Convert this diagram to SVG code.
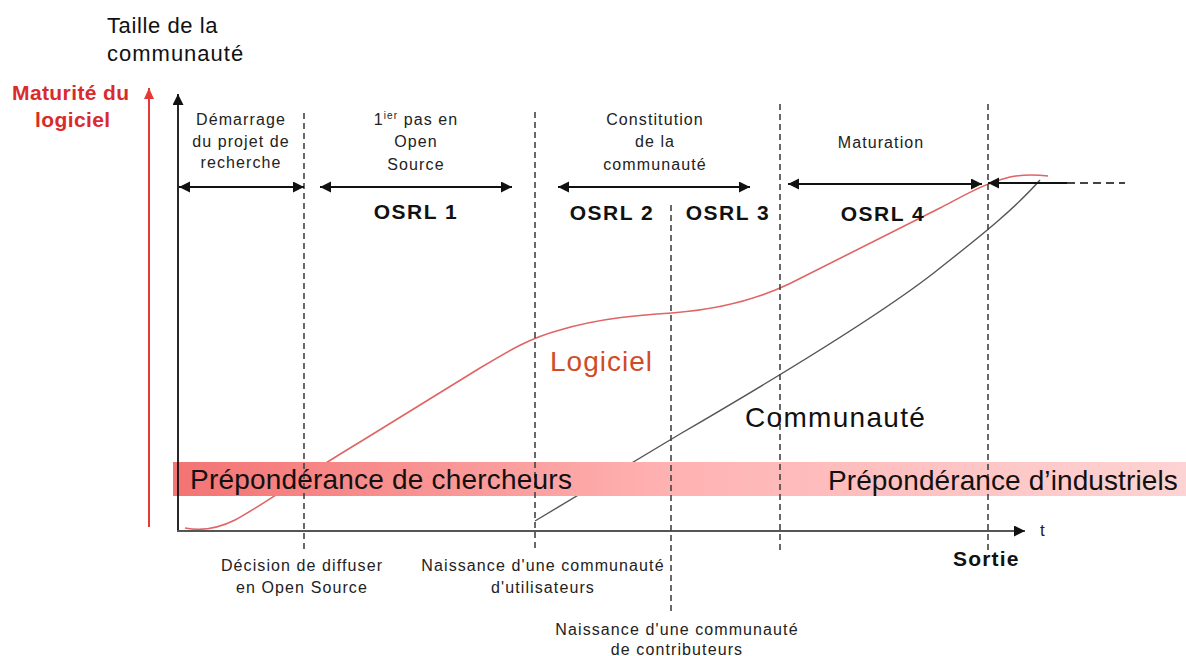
<svg xmlns="http://www.w3.org/2000/svg" width="1186" height="656" viewBox="0 0 1186 656">
<defs>
<marker id="ah" markerUnits="userSpaceOnUse" markerWidth="12" markerHeight="12" refX="11" refY="5.5" orient="auto-start-reverse"><path d="M0,0 L11,5.5 L0,11 z" fill="#111"/></marker>
<marker id="ahr" markerUnits="userSpaceOnUse" markerWidth="12" markerHeight="12" refX="11" refY="5" orient="auto"><path d="M0,0 L11,5 L0,10 z" fill="#e53935"/></marker>
<linearGradient id="band" x1="0" y1="0" x2="1" y2="0">
<stop offset="0" stop-color="#f47373"/>
<stop offset="0.5" stop-color="#ffb3b3"/>
<stop offset="1" stop-color="#fdd3d3"/>
</linearGradient>
<style>
text{font-family:"Liberation Sans",Arial,sans-serif}
.ph{font-size:16px;fill:#222;letter-spacing:1.1px;text-anchor:middle}
.os{font-size:21px;font-weight:bold;fill:#111;letter-spacing:1.5px;text-anchor:middle}
.dash{stroke:#444;stroke-width:1.6;stroke-dasharray:6,4;fill:none}
.dbl{stroke:#111;stroke-width:1.8;fill:none;marker-start:url(#ah);marker-end:url(#ah)}
</style>
</defs>
<rect width="1186" height="656" fill="#fff"/>

<g id="curves">
<path id="curve-logiciel" d="M185,528 C200,531 215,530 235,520 S300,478 360,442 L480,368 C510,350 530,338 560,330 C600,318 640,315 672,313 C725,309 762,297 790,283.5 L940,208 C965,195 985,183 1010,177 C1025,174 1040,175 1048,176" fill="none" stroke="#e06464" stroke-width="1.6"/>
<path id="curve-communaute" d="M535,521 L680,434 C790,370 880,315 935,272 C970,244 1010,214 1040,180" fill="none" stroke="#555" stroke-width="1.4"/>
</g>

<g id="band-group">
<rect x="173" y="462" width="1013" height="34" fill="url(#band)"/>
</g>

<g id="connectors">
<line x1="149" y1="527" x2="149" y2="88" stroke="#e53935" stroke-width="2" marker-end="url(#ahr)"/>
<line x1="178" y1="531" x2="178" y2="94" stroke="#111" stroke-width="1.8" marker-end="url(#ah)"/>
<line x1="177" y1="531" x2="1025" y2="531" stroke="#555" stroke-width="2" marker-end="url(#ah)"/>
<line class="dash" x1="304" y1="113" x2="304" y2="552"/>
<line class="dash" x1="535" y1="112" x2="535" y2="552"/>
<line class="dash" x1="671" y1="205" x2="671" y2="614"/>
<line class="dash" x1="780" y1="104" x2="780" y2="554"/>
<line class="dash" x1="988" y1="104" x2="988" y2="550"/>
<line class="dbl" x1="179" y1="187" x2="304" y2="187"/>
<line class="dbl" x1="320" y1="187" x2="512" y2="187"/>
<line class="dbl" x1="558" y1="187" x2="750" y2="187"/>
<line class="dbl" x1="788" y1="184" x2="982" y2="184"/>
<line x1="1067" y1="183" x2="988" y2="183" stroke="#111" stroke-width="1.8" marker-end="url(#ah)"/>
<line x1="1067" y1="183" x2="1125" y2="183" stroke="#444" stroke-width="1.8" stroke-dasharray="8,5"/>
</g>

<g id="axis-labels">
<text x="107" y="33" font-size="22" letter-spacing="0.6" fill="#111">Taille de la</text>
<text x="107" y="61" font-size="22" letter-spacing="1" fill="#111">communauté</text>
<text x="12" y="100" font-size="21" font-weight="bold" letter-spacing="0.4" fill="#d92b2b">Maturité du</text>
<text x="35" y="127" font-size="21" font-weight="bold" letter-spacing="0.4" fill="#d92b2b">logiciel</text>
<text x="1040" y="536" font-size="17" fill="#222">t</text>
<text x="953" y="566" font-size="21" font-weight="bold" letter-spacing="1.2" fill="#111">Sortie</text>
</g>

<g id="phase-demarrage">
<text class="ph" x="241" y="125">Démarrage</text>
<text class="ph" x="241" y="147">du projet de</text>
<text class="ph" x="241" y="168">recherche</text>
</g>
<g id="phase-osrl1">
<text class="ph" x="416" y="125">1<tspan font-size="10" dy="-6">ier</tspan><tspan dy="6"> pas en</tspan></text>
<text class="ph" x="416" y="147">Open</text>
<text class="ph" x="416" y="170">Source</text>
<text class="os" x="416" y="219">OSRL 1</text>
</g>
<g id="phase-constitution">
<text class="ph" x="655" y="125">Constitution</text>
<text class="ph" x="655" y="147">de la</text>
<text class="ph" x="655" y="170">communauté</text>
<text class="os" x="612" y="220">OSRL 2</text>
<text class="os" x="728" y="220">OSRL 3</text>
</g>
<g id="phase-maturation">
<text class="ph" x="881" y="148">Maturation</text>
<text class="os" x="883" y="221">OSRL 4</text>
</g>

<g id="curve-labels">
<text x="550" y="371" font-size="28" letter-spacing="1" fill="#cf4c24">Logiciel</text>
<text x="745" y="427" font-size="28" letter-spacing="1.3" fill="#111">Communauté</text>
</g>

<g id="band-labels">
<text x="190" y="489" font-size="28" letter-spacing="0.2" fill="#111">Prépondérance de chercheurs</text>
<text x="828" y="490" font-size="28" letter-spacing="0.1" fill="#111">Prépondérance d’industriels</text>
</g>

<g id="event-labels">
<text class="ph" x="302" y="571">Décision de diffuser</text>
<text class="ph" x="302" y="593">en Open Source</text>
<text class="ph" x="543" y="571">Naissance d'une communauté</text>
<text class="ph" x="543" y="593">d'utilisateurs</text>
<text class="ph" x="677" y="635">Naissance d'une communauté</text>
<text class="ph" x="677" y="655">de contributeurs</text>
</g>
</svg>
